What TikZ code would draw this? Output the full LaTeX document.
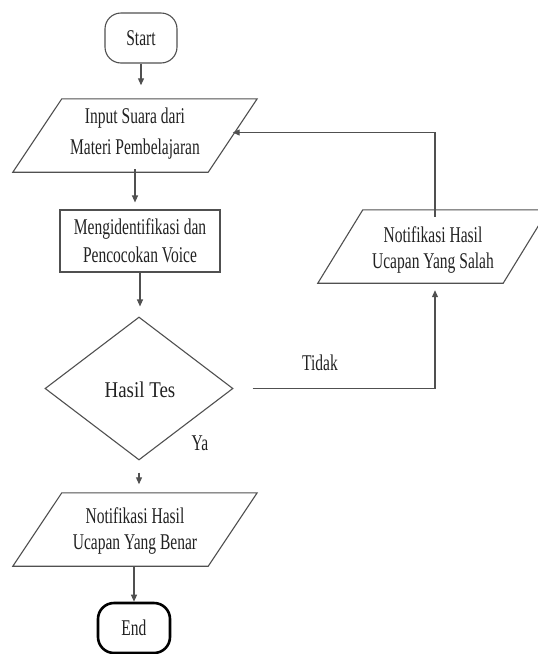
\documentclass[tikz,border=0pt]{standalone}
\usepackage{fontspec}
\setmainfont[FakeStretch=0.69]{Liberation Serif}
\newfontfamily\hasilfont[FakeStretch=0.84]{Liberation Serif}
\usetikzlibrary{arrows.meta,shapes.geometric,calc}
\definecolor{linegray}{HTML}{505050}
\definecolor{txt}{HTML}{222222}
\tikzset{
  base/.style={font=\fontsize{22.5}{26}\selectfont, text=txt, align=center, inner sep=0pt},
  term/.style={base, draw=linegray, line width=1.1pt, rounded corners=16pt, minimum width=72pt, minimum height=50pt},
  endterm/.style={base, draw=black, line width=2.6pt, rounded corners=16pt, minimum width=72pt, minimum height=50pt},
  paranode/.style={base, minimum width=#1, minimum height=73pt},
  parashape/.style={draw=linegray, line width=1.1pt},
  proc/.style={base, draw=linegray, line width=1.1pt, minimum width=160pt, minimum height=62pt},
  dec/.style={base, draw=linegray, line width=1.1pt, shape=diamond, minimum width=188pt, minimum height=143pt},
  lbl/.style={base},
  arr/.style={draw=linegray, line width=1.1pt, -{Triangle[length=7pt,width=6pt]}},
}
\begin{document}
\begin{tikzpicture}[x=1pt,y=-1pt]
\useasboundingbox (0,0) rectangle (538,654);
\fill[white] (0,0) rectangle (538,654);

\node[term] (start) at (141,38) {Start};

\node[paranode=244pt, font=\fontsize{22.5}{31}\selectfont] (input) at (135,134) {Input Suara dari\\Materi Pembelajaran};
\draw[parashape] ([xshift=49pt,yshift=-1.5pt]input.north west) -- ([yshift=-1.5pt]input.north east) -- ([xshift=-49pt,yshift=-1.5pt]input.south east) -- ([yshift=-1.5pt]input.south west) -- cycle;

\node[proc, font=\fontsize{22.5}{28}\selectfont] (meng) at (140,241) {Mengidentifikasi dan\\Pencocokan Voice};

\node[dec] (dia) at (139,388.5) {};
\node[base, font=\hasilfont\fontsize{22.5}{26}\selectfont] (hasil) at (140,390) {Hasil Tes};

\node[paranode=230pt] (salah) at (433,250) {Notifikasi Hasil\\Ucapan Yang Salah};
\draw[parashape] ([xshift=45pt,yshift=3.5pt]salah.north west) -- ([yshift=3.5pt]salah.north east) -- ([xshift=-45pt,yshift=3.5pt]salah.south east) -- ([yshift=3.5pt]salah.south west) -- cycle;

\node[paranode=244pt] (benar) at (135,531) {Notifikasi Hasil\\Ucapan Yang Benar};
\draw[parashape] ([xshift=49pt,yshift=1.5pt]benar.north west) -- ([yshift=1.5pt]benar.north east) -- ([xshift=-49pt,yshift=1.5pt]benar.south east) -- ([yshift=1.5pt]benar.south west) -- cycle;

\node[endterm] (end) at (134,628) {End};

\node[lbl] (ya) at (200,443) {Ya};
\node[lbl] (tidak) at (320,363) {Tidak};

\draw[arr, shorten >=12pt] (start.south) -- (start.south |- input.north);
\draw[arr, shorten <=-1.5pt, shorten >=7pt] (input.south) -- (input.south |- meng.north);
\draw[arr, shorten >=10pt] (meng.south) -- (meng.south |- dia.north);
\draw[arr, shorten <=12pt, shorten >=10pt] (dia.south) -- (dia.south |- benar.north);
\draw[arr, shorten <=-1.5pt] (end.north |- benar.south) -- (end.north);
\draw[arr, shorten <=19pt, shorten >=3.5pt] (dia.east) -| ([xshift=2pt]salah.south);
\draw[arr, shorten <=-3.5pt] ([xshift=2pt]salah.north) |- ([xshift=-24.5pt,yshift=1.5pt]input.east);
\end{tikzpicture}
\end{document}
